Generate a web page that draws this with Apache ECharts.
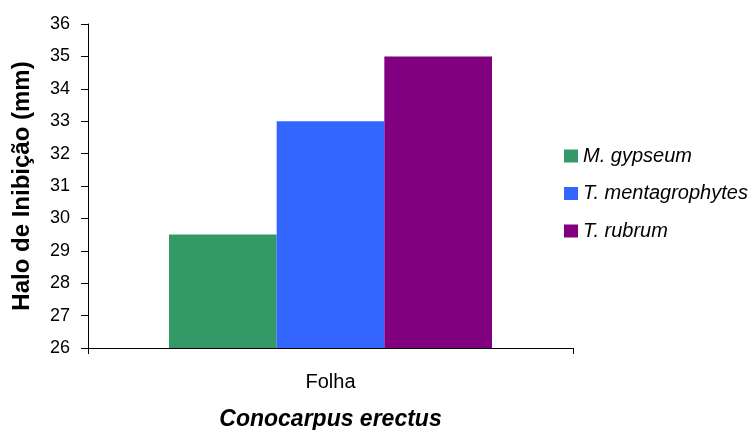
<!DOCTYPE html>
<html><head><meta charset="utf-8">
<script src="https://cdn.jsdelivr.net/npm/echarts@6/dist/echarts.min.js"></script>
<style>html,body{margin:0;padding:0;background:#fff}#c{width:756px;height:430px}</style>
</head><body><div id="c"></div>
<script>
const categories = ['Folha'];
const seriesNames = ['M. gypseum', 'T. mentagrophytes', 'T. rubrum'];
const seriesValues = [[29.5], [33], [35]];
const colors = ['#339966', '#3366FF', '#800080'];
const yTicks = {min: 26, max: 36, interval: 1};

const chart = echarts.init(document.getElementById('c'));
const font = 'Liberation Sans, Arial, sans-serif';
chart.setOption({
  animation: false,
  grid: {left: 88, right: 183, top: 24, bottom: 82, outerBoundsMode: 'none', containLabel: false},
  legend: {
    orient: 'vertical', left: 559, top: 141, itemWidth: 14, itemHeight: 13, itemGap: 17.5,
    icon: 'rect',
    textStyle: {fontFamily: font, fontSize: 20, lineHeight: 20, fontStyle: 'italic', color: '#000'},
    data: seriesNames
  },
  xAxis: {
    type: 'category', data: categories,
    name: 'Conocarpus erectus', nameLocation: 'middle', nameGap: 60,
    nameTextStyle: {fontFamily: font, fontSize: 23, fontWeight: 'bold', fontStyle: 'italic', color: '#000'},
    axisLine: {lineStyle: {color: '#000', width: 1}},
    axisTick: {show: true, length: 6, alignWithLabel: false, lineStyle: {color: '#000'}},
    axisLabel: {fontFamily: font, fontSize: 20, color: '#000', margin: 24}
  },
  yAxis: {
    type: 'value', min: yTicks.min, max: yTicks.max, interval: yTicks.interval,
    name: 'Halo de Inibição (mm)', nameLocation: 'middle', nameGap: 54,
    nameTextStyle: {fontFamily: font, fontSize: 24, fontWeight: 'bold', color: '#000'},
    axisLine: {show: true, lineStyle: {color: '#000', width: 1}},
    axisTick: {show: true, length: 7, lineStyle: {color: '#000'}},
    splitLine: {show: false},
    axisLabel: {fontFamily: font, fontSize: 18, color: '#000', margin: 18}
  },
  series: seriesNames.map((n, i) => ({
    name: n, type: 'bar', data: seriesValues[i],
    itemStyle: {color: colors[i]},
    barGap: '0%', barCategoryGap: '33.4%'
  }))
});
</script></body></html>
